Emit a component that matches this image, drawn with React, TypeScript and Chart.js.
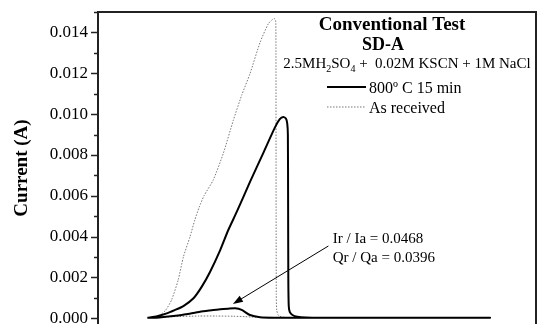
import React, { useEffect, useRef } from 'react';
import { Chart, registerables } from 'chart.js';

Chart.register(...registerables);

const FONT = "'Liberation Serif', 'Times New Roman', Times, serif";

// Potential (mV, hidden axis) and current (A) — 800 ºC 15 min (forward scan then reverse scan)
const heatTreatedX = [
  -487, -465, -443, -425, -405, -382, -363, -344, -321, -303, -283, -253, -223, -196, -185, -177,
  -171, -168, -166.5, -166, -165.5, -164.5, -162, -156, -145, -125, -90, 295,
  -200, -230, -253, -272, -287, -303, -321, -345, -367, -400, -428, -460, -487,
];
const heatTreatedY = [
  0.00002, 0.0001, 0.00024, 0.0004, 0.0006, 0.00098, 0.00155, 0.00228, 0.00334, 0.0043, 0.00522,
  0.00668, 0.00808, 0.00935, 0.00975, 0.00986,
  0.00978, 0.00955, 0.009, 0.006, 0.002, 0.0006, 0.0003, 0.00016, 0.00008, 0.00004, 0.00003, 0.00003,
  0.00003, 0.00005, 0.00016, 0.00041, 0.00049, 0.00047, 0.00044, 0.00038, 0.00032, 0.0002, 0.00011,
  0.00004, 0.00002,
];

// As received (forward scan then reverse scan)
const asReceivedX = [
  -487, -470, -458, -445, -432, -417, -405, -390, -379, -369, -358, -337, -314, -291, -272, -253,
  -230, -211, -201, -196, -194, -193.5, -193, -192, -188, -180, -160, 295,
  -200, -240, -265, -290, -330, -370, -429, -460, -487,
];
const asReceivedY = [
  0.00002, 0.00006, 0.00016, 0.00041, 0.0009, 0.00187, 0.00301, 0.00399, 0.00481, 0.00544, 0.006,
  0.00677, 0.00807, 0.0097, 0.01092, 0.01198,
  0.01351, 0.01443, 0.01464, 0.01467, 0.0145, 0.008, 0.0012, 0.0004, 0.00014, 0.00006, 0.00003, 0.00003,
  0.00003, 0.00005, 0.00008, 0.0001, 0.00011, 0.00011, 0.00008, 0.00004, 0.00002,
];

const seriesLabels = ['800º C 15 min', 'As received'];
const titleLines = ['Conventional Test', 'SD-A'];
const solutionText = ['2.5MH', '2', 'SO', '4', ' +  0.02M KSCN + 1M NaCl'];
const solutionIsSub = [false, true, false, true, false];
const annotationLines = ['Ir / Ia = 0.0468', 'Qr / Qa = 0.0396'];
const yAxisTitle = 'Current (A)';

const X_MIN = -600;
const X_MAX = 400;
const Y_MIN = -0.00028;
const Y_MAX = 0.015;
const Y_STEP = 0.001;

// annotation anchor points (data coordinates)
const arrowFrom = { x: -74, y: 0.00354 };
const arrowTo = { x: -292, y: 0.0007 };
const annotationAt = [
  { x: -64, y: 0.00371 },
  { x: -64, y: 0.00278 },
];

const decorPlugin = {
  id: 'decor',
  afterDraw(chart: any) {
    const { ctx, chartArea: ca, scales } = chart;
    const ys = scales.y;
    const xs = scales.x;
    ctx.save();
    // frame (top and right)
    ctx.strokeStyle = '#222';
    ctx.lineWidth = 2;
    ctx.beginPath();
    ctx.moveTo(ca.left - 1, ca.top);
    ctx.lineTo(ca.right, ca.top);
    ctx.lineTo(ca.right, ca.bottom);
    ctx.stroke();

    // y tick marks, major and minor
    ctx.lineWidth = 1.5;
    ys.ticks.forEach((t: any) => {
      if (t.value < -1e-9) return;
      const k = Math.round(t.value / Y_STEP);
      const py = Math.round(ys.getPixelForValue(t.value)) + 0.5;
      const len = k % 2 === 0 ? 6 : 3;
      ctx.beginPath();
      ctx.moveTo(ca.left - len - 1, py);
      ctx.lineTo(ca.left, py);
      ctx.stroke();
    });

    // legend block
    ctx.fillStyle = '#000';
    ctx.textBaseline = 'alphabetic';
    ctx.textAlign = 'center';
    ctx.font = `bold 19px ${FONT}`;
    ctx.fillText(titleLines[0], ca.right - 144, ca.top + 18);
    ctx.font = `bold 18px ${FONT}`;
    ctx.fillText(titleLines[1], ca.right - 153, ca.top + 38);

    // solution line with subscripts
    const mainFont = `15px ${FONT}`;
    const subFont = `10px ${FONT}`;
    let total = 0;
    solutionText.forEach((s, i) => {
      ctx.font = solutionIsSub[i] ? subFont : mainFont;
      total += ctx.measureText(s).width;
    });
    let sx = ca.right - 129 - total / 2;
    ctx.textAlign = 'left';
    solutionText.forEach((s, i) => {
      ctx.font = solutionIsSub[i] ? subFont : mainFont;
      ctx.fillText(s, sx, ca.top + 56 + (solutionIsSub[i] ? 4 : 0));
      sx += ctx.measureText(s).width;
    });

    // series entries
    const entryFont = `16px ${FONT}`;
    chart.data.datasets.forEach((ds: any, i: number) => {
      const cy = ca.top + 75 + i * 20;
      ctx.save();
      ctx.strokeStyle = ds.borderColor;
      ctx.lineWidth = ds.borderWidth;
      ctx.setLineDash(ds.borderDash || []);
      ctx.beginPath();
      ctx.moveTo(ca.right - 209, cy);
      ctx.lineTo(ca.right - 170, cy);
      ctx.stroke();
      ctx.restore();
      ctx.font = entryFont;
      ctx.fillStyle = '#000';
      ctx.textAlign = 'left';
      ctx.fillText(ds.label, ca.right - 167, cy + 5.5);
    });

    // annotation
    ctx.font = mainFont;
    annotationLines.forEach((s, i) => {
      ctx.fillText(s, xs.getPixelForValue(annotationAt[i].x), ys.getPixelForValue(annotationAt[i].y));
    });
    const x1 = xs.getPixelForValue(arrowFrom.x);
    const y1 = ys.getPixelForValue(arrowFrom.y);
    const x2 = xs.getPixelForValue(arrowTo.x);
    const y2 = ys.getPixelForValue(arrowTo.y);
    const ang = Math.atan2(y2 - y1, x2 - x1);
    const hl = 10;
    const hw = 3.5;
    ctx.strokeStyle = '#000';
    ctx.lineWidth = 1;
    ctx.beginPath();
    ctx.moveTo(x1, y1);
    ctx.lineTo(x2 - Math.cos(ang) * hl * 0.8, y2 - Math.sin(ang) * hl * 0.8);
    ctx.stroke();
    ctx.beginPath();
    ctx.moveTo(x2, y2);
    ctx.lineTo(x2 - Math.cos(ang) * hl + Math.sin(ang) * hw, y2 - Math.sin(ang) * hl - Math.cos(ang) * hw);
    ctx.lineTo(x2 - Math.cos(ang) * hl - Math.sin(ang) * hw, y2 - Math.sin(ang) * hl + Math.cos(ang) * hw);
    ctx.closePath();
    ctx.fillStyle = '#000';
    ctx.fill();
    ctx.restore();
  },
};

export default function App() {
  const ref = useRef<HTMLCanvasElement>(null);
  useEffect(() => {
    document.body.style.margin = '0';
    const canvas = ref.current as HTMLCanvasElement;
    const chart = new Chart(canvas, {
      type: 'line',
      data: {
        datasets: [
          {
            label: seriesLabels[0],
            data: heatTreatedX.map((x, i) => ({ x, y: heatTreatedY[i] })),
            borderColor: '#000',
            borderWidth: 2,
            pointRadius: 0,
            tension: 0.2,
            fill: false,
          },
          {
            label: seriesLabels[1],
            data: asReceivedX.map((x, i) => ({ x, y: asReceivedY[i] })),
            borderColor: '#777',
            borderWidth: 1,
            borderDash: [1.5, 1.5],
            pointRadius: 0,
            tension: 0.2,
            fill: false,
          },
        ],
      },
      options: {
        responsive: false,
        animation: false,
        devicePixelRatio: 1,
        layout: { padding: { top: 12, right: 2, left: 0, bottom: 0 } },
        plugins: { legend: { display: false }, tooltip: { enabled: false } },
        scales: {
          x: { type: 'linear', min: X_MIN, max: X_MAX, display: false },
          y: {
            type: 'linear',
            min: Y_MIN,
            max: Y_MAX,
            grid: { display: false, drawTicks: false },
            border: { display: true, width: 2, color: '#222' },
            ticks: {
              stepSize: Y_STEP,
              includeBounds: false,
              autoSkip: false,
              padding: 10,
              color: '#000',
              font: { family: FONT, size: 17 },
              callback: (v: any) => {
                const k = Math.round(Number(v) / Y_STEP);
                if (k < 0 || Math.abs(Number(v) / Y_STEP - k) > 1e-6) return '';
                return k % 2 === 0 ? (k * Y_STEP).toFixed(3) : '';
              },
            },
            title: {
              display: true,
              text: yAxisTitle,
              color: '#000',
              font: { family: FONT, size: 19, weight: 'bold' },
              padding: { top: 11, bottom: 0 },
            },
            afterFit: (s: any) => {
              s.width = 98;
              s.paddingTop = 0;
              s.paddingBottom = 0;
            },
          },
        },
      },
      plugins: [decorPlugin],
    } as any);
    return () => chart.destroy();
  }, []);
  return <canvas ref={ref} width={538} height={324} style={{ display: 'block' }} />;
}
